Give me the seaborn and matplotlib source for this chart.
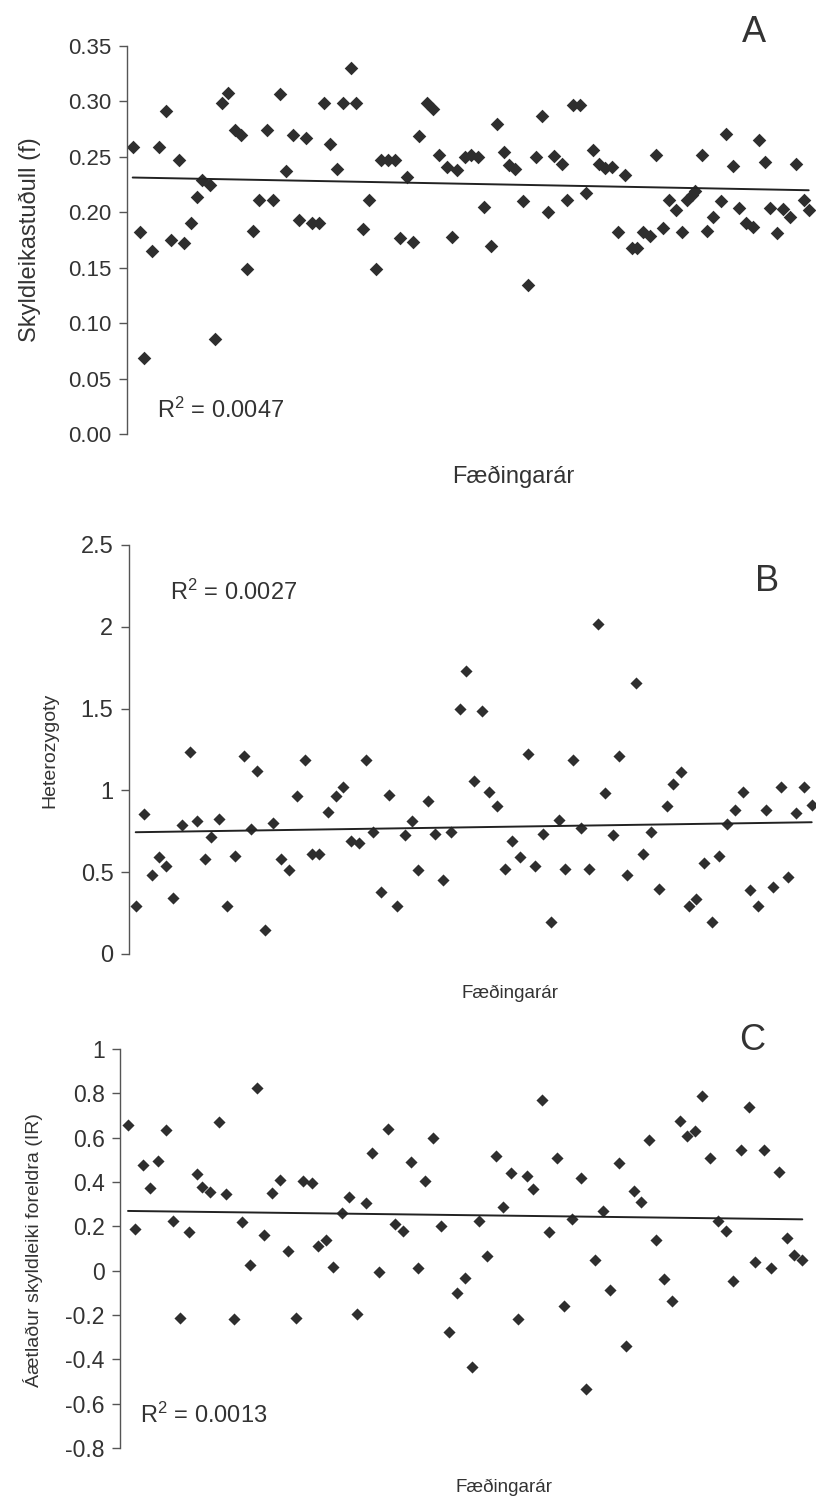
import numpy as np
import pandas as pd
import matplotlib
matplotlib.use("Agg")
import matplotlib.pyplot as plt
import seaborn as sns

# Gögn lesin af myndinni (x = staða á Fæðingarár-ás, ómerktur ás)

ar_a = [132.7, 139.7, 144.3, 152.3, 158.7, 165.7, 170.7, 178.7, 183.7, 190.7,
        196.7, 202.0, 210.0, 215.0, 221.7, 228.3, 235.3, 240.7, 247.3, 253.3,
        259.0, 266.7, 272.7, 280.3, 285.7, 293.0, 298.7, 305.7, 311.7, 319.0,
        324.3, 330.3, 337.3, 342.7, 350.7, 356.3, 363.3, 368.7, 375.7, 381.0,
        387.7, 395.3, 400.0, 407.3, 413.3, 419.3,
        426.7, 433.3, 439.3, 446.7, 451.7, 457.3, 465.0, 471.0, 478.3, 484.0,
        490.7, 496.7, 504.3, 509.3, 515.0, 522.7, 528.3, 536.0, 541.7, 548.3,
        554.0, 561.7, 567.3, 573.3, 580.0, 585.7, 592.7, 599.3, 605.0, 611.7,
        618.3, 625.0, 631.7, 637.3, 643.3, 650.0, 656.0, 663.3, 668.7, 676.0,
        681.7, 687.3, 691.7, 695.0, 701.7, 707.3, 713.3, 720.7, 726.0, 733.3,
        739.0, 746.0, 752.7, 759.3, 765.3, 770.0, 777.3, 783.3, 790.0, 796.0,
        804.0, 808.7]
f_a = [0.259, 0.182, 0.069, 0.165, 0.259, 0.291, 0.175, 0.247, 0.172, 0.190,
       0.214, 0.229, 0.225, 0.086, 0.299, 0.308, 0.274, 0.270, 0.149, 0.183,
       0.211, 0.274, 0.211, 0.307, 0.237, 0.270, 0.193, 0.267, 0.190, 0.190,
       0.299, 0.262, 0.239, 0.299, 0.330, 0.299, 0.185, 0.211, 0.149, 0.247,
       0.247, 0.247, 0.177, 0.232, 0.173, 0.269,
       0.299, 0.293, 0.252, 0.241, 0.178, 0.238, 0.250, 0.252, 0.250, 0.205,
       0.170, 0.280, 0.254, 0.243, 0.239, 0.210, 0.134, 0.250, 0.287, 0.200,
       0.251, 0.244, 0.211, 0.297, 0.297, 0.217, 0.256, 0.244, 0.240, 0.241,
       0.182, 0.234, 0.168, 0.168, 0.182, 0.179, 0.252, 0.186, 0.211, 0.202,
       0.182, 0.211, 0.216, 0.219, 0.252, 0.183, 0.196, 0.210, 0.271, 0.242,
       0.204, 0.190, 0.187, 0.265, 0.245, 0.204, 0.181, 0.203, 0.196, 0.244,
       0.211, 0.202]

ar_b = [135.7, 143.7, 151.7, 158.7, 166.0, 173.3, 181.7, 190.0, 197.3, 205.3,
        211.0, 219.3, 226.7, 235.3, 243.7, 251.3, 257.3, 265.0, 273.3, 281.3,
        289.3, 297.0, 305.0, 311.7, 319.3, 327.7, 335.7, 343.3, 350.7, 359.3,
        366.0, 373.3, 381.3, 389.3, 396.7, 404.7, 411.7, 418.3,
        427.7, 435.3, 443.0, 450.7, 459.7, 466.3, 473.7, 482.0, 489.3, 497.3,
        505.3, 512.0, 519.7, 527.7, 535.3, 543.3, 551.0, 559.3, 565.3, 573.3,
        581.3, 588.7, 598.0, 605.3, 613.3, 619.3, 627.0, 635.7, 643.0, 651.0,
        659.0, 666.7, 673.0, 681.0, 688.7, 696.0, 704.3, 712.0, 718.7, 726.7,
        735.0, 742.7, 750.0, 758.0, 766.0, 772.7, 780.7, 788.0, 796.0, 804.0,
        811.7]
het_b = [0.293, 0.856, 0.485, 0.595, 0.536, 0.344, 0.789, 1.233, 0.815, 0.583,
         0.717, 0.825, 0.293, 0.601, 1.212, 0.764, 1.119, 0.147, 0.799, 0.583,
         0.515, 0.964, 1.186, 0.611, 0.611, 0.866, 0.964, 1.023, 0.691, 0.681,
         1.186, 0.748, 0.381, 0.972, 0.293, 0.727, 0.815, 0.515,
         0.935, 0.731, 0.450, 0.748, 1.496, 1.728, 1.059, 1.485, 0.992, 0.905,
         0.517, 0.693, 0.593, 1.222, 0.536, 0.731, 0.198, 0.819, 0.517, 1.186,
         0.768, 0.517, 2.017, 0.982, 0.729, 1.212, 0.485, 1.658, 0.613, 0.748,
         0.399, 0.905, 1.037, 1.115, 0.293, 0.334, 0.554, 0.196, 0.599, 0.797,
         0.882, 0.988, 0.389, 0.293, 0.882, 0.410, 1.019, 0.473, 0.862, 1.019,
         0.913]

ar_c = [128.0, 135.0, 143.3, 150.0, 158.0, 165.7, 172.7, 180.3, 188.7, 196.7,
        202.3, 210.0, 218.7, 226.3, 234.0, 242.0, 249.7, 256.7, 264.3, 272.0,
        280.3, 288.0, 295.7, 303.3, 312.0, 318.0, 326.0, 333.3, 341.7, 349.3,
        357.3, 365.7, 372.3, 379.0, 387.7, 395.3, 403.3, 411.3, 418.3,
        425.3, 433.3, 441.0, 448.7, 456.7, 465.0, 472.3, 479.0, 487.0, 495.7,
        503.3, 511.3, 518.3, 526.7, 533.3, 541.7, 549.0, 557.3, 564.3, 572.3,
        580.7, 586.3, 594.7, 602.7, 610.0, 618.7, 626.0, 634.3, 640.7, 648.7,
        656.0, 663.7, 672.0, 680.0, 687.3, 695.3, 702.3, 710.0, 717.7, 725.7,
        733.3, 741.3, 749.3, 755.3, 763.7, 770.7, 779.0, 786.7, 794.3, 802.3]
ir_c = [0.656, 0.189, 0.475, 0.374, 0.496, 0.635, 0.224, -0.212, 0.176, 0.435,
        0.376, 0.353, 0.669, 0.346, -0.220, 0.220, 0.026, 0.826, 0.161, 0.352,
        0.411, 0.090, -0.212, 0.405, 0.394, 0.110, 0.140, 0.018, 0.260, 0.331,
        -0.197, 0.304, 0.531, -0.005, 0.639, 0.211, 0.180, 0.489, 0.011,
        0.403, 0.597, 0.203, -0.275, -0.102, -0.032, -0.435, 0.226, 0.068, 0.519,
        0.289, 0.439, -0.220, 0.426, 0.367, 0.768, 0.174, 0.510, -0.161, 0.232,
        0.417, -0.534, 0.047, 0.268, -0.089, 0.487, -0.341, 0.359, 0.308, 0.588,
        0.140, -0.039, -0.137, 0.675, 0.609, 0.630, 0.788, 0.510, 0.226, 0.180,
        -0.048, 0.546, 0.737, 0.038, 0.546, 0.011, 0.444, 0.146, 0.072, 0.050]

r2_texts = ["0.0047", "0.0027", "0.0013"]
panel_letters = ["A", "B", "C"]
y_labels = ["Skyldleikastuðull (f)", "Heterozygoty", "Áætlaður skyldleiki foreldra (IR)"]
x_label = "Fæðingarár"

# Útlit

sns.set_theme(style="white")
plt.rcParams["font.family"] = ["Liberation Sans", "DejaVu Sans"]
plt.rcParams["mathtext.fontset"] = "custom"
plt.rcParams["mathtext.rm"] = "Liberation Sans"
plt.rcParams["mathtext.default"] = "regular"

W, H = 816, 1500
fig = plt.figure(figsize=(W / 100, H / 100), dpi=100)

point_color = "#2e2e2e"
text_color = "#333333"

panels = [
    dict(x=ar_a, y=f_a, left=127, top=46, bottom=434, ylim=(0, 0.35),
         yticks=np.arange(0, 0.351, 0.05), fmt="{:.2f}", ms=48, tick_fs=16,
         ylab_fs=17, xlab_fs=17, ylab_pos=(30, 240), xlab_pos=(513, 477),
         r2_pos=(157, 410), letter_pos=(754, 33)),
    dict(x=ar_b, y=het_b, left=128.7, top=545, bottom=954, ylim=(0, 2.5),
         yticks=np.arange(0, 2.51, 0.5), fmt="{:g}", ms=38, tick_fs=17,
         ylab_fs=14, xlab_fs=13.5, ylab_pos=(50, 750), xlab_pos=(510, 993),
         r2_pos=(170, 592), letter_pos=(767, 582)),
    dict(x=ar_c, y=ir_c, left=120, top=1049, bottom=1448, ylim=(-0.8, 1.0),
         yticks=np.arange(-0.8, 1.01, 0.2), fmt="{:g}", ms=38, tick_fs=16.5,
         ylab_fs=14, xlab_fs=13.5, ylab_pos=(33, 1250), xlab_pos=(504, 1487),
         r2_pos=(140, 1415), letter_pos=(752, 1041)),
]

for i, p in enumerate(panels):
    ax = fig.add_axes([p["left"] / W, 1 - p["bottom"] / H,
                       (W - p["left"]) / W, (p["bottom"] - p["top"]) / H])
    df = pd.DataFrame({"ar": p["x"], "gildi": p["y"]})

    sns.regplot(data=df, x="ar", y="gildi", ax=ax, ci=None,
                marker="D",
                scatter_kws={"s": p["ms"], "color": point_color, "linewidths": 0,
                             "alpha": 1},
                line_kws={"color": "#222222", "linewidth": 1.4})

    ax.set_xlim(p["left"], W)
    ax.set_ylim(*p["ylim"])
    ax.set_xticks([])
    ax.set_yticks(p["yticks"])
    labels = []
    for t in p["yticks"]:
        t = round(t, 2)
        if t == 0:
            t = 0.0
        labels.append(p["fmt"].format(t))
    ax.set_yticklabels(labels)

    for side in ["top", "right", "bottom"]:
        ax.spines[side].set_visible(False)
    ax.spines["left"].set_color("#555555")
    ax.spines["left"].set_linewidth(1.0)
    ax.tick_params(axis="y", left=True, direction="out", length=6, width=1,
                   color="#555555", pad=5, labelsize=p["tick_fs"],
                   labelcolor=text_color)

    axw = W - p["left"]
    axh = p["bottom"] - p["top"]

    ax.set_ylabel(y_labels[i], fontsize=p["ylab_fs"], color=text_color)
    ax.yaxis.set_label_coords((p["ylab_pos"][0] - p["left"]) / axw,
                              (p["bottom"] - p["ylab_pos"][1]) / axh)
    ax.yaxis.label.set_va("center")

    ax.set_xlabel(x_label, fontsize=p["xlab_fs"], color=text_color)
    ax.xaxis.set_label_coords((p["xlab_pos"][0] - p["left"]) / axw,
                              (p["bottom"] - p["xlab_pos"][1]) / axh)
    ax.xaxis.label.set_va("center")

    ax.text((p["r2_pos"][0] - p["left"]) / axw, (p["bottom"] - p["r2_pos"][1]) / axh,
            "R$^2$ = " + r2_texts[i], transform=ax.transAxes, ha="left",
            va="center", fontsize=17, color=text_color)
    ax.text((p["letter_pos"][0] - p["left"]) / axw,
            (p["bottom"] - p["letter_pos"][1]) / axh,
            panel_letters[i], transform=ax.transAxes, ha="center", va="center",
            fontsize=26, color=text_color)

plt.savefig("out.png", dpi=100)
plt.close()
